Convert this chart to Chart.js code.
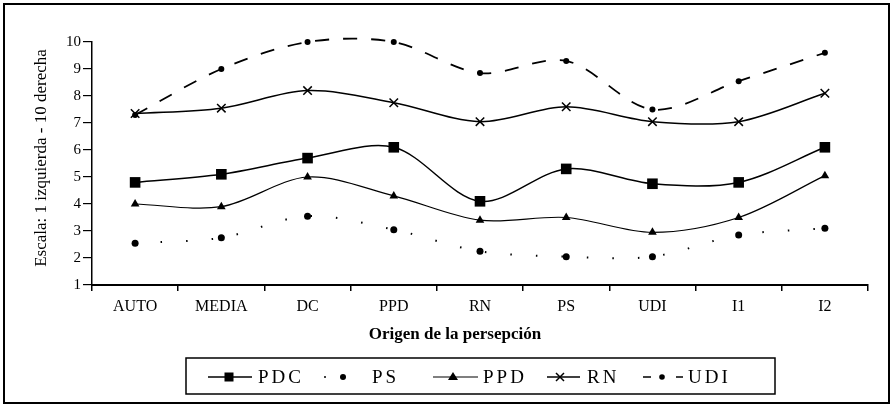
<!DOCTYPE html>
<html>
<head>
<meta charset="utf-8">
<script src="https://cdn.jsdelivr.net/npm/chart.js@4/dist/chart.umd.min.js"></script>
<style>
  html, body { margin: 0; padding: 0; background: #fff; }
  #wrap { width: 892px; height: 406px; position: relative; }
</style>
</head>
<body>
<div id="wrap"><canvas id="c" width="892" height="406"></canvas></div>
<script>
const categories = ['AUTO', 'MEDIA', 'DC', 'PPD', 'RN', 'PS', 'UDI', 'I1', 'I2'];
const seriesNames = ['PDC', 'PS', 'PPD', 'RN', 'UDI'];
const PDC = [4.8, 5.1, 5.7, 6.1, 4.1, 5.3, 4.75, 4.8, 6.1];
const PS  = [2.55, 2.75, 3.55, 3.05, 2.25, 2.05, 2.05, 2.85, 3.1];
const PPD = [4.0, 3.9, 5.0, 4.3, 3.4, 3.5, 2.95, 3.5, 5.05];
const RN  = [7.35, 7.55, 8.2, 7.75, 7.05, 7.6, 7.05, 7.05, 8.1];
const UDI = [7.3, 9.0, 10.0, 10.0, 8.85, 9.3, 7.5, 8.55, 9.6];
const yTicks = [1, 2, 3, 4, 5, 6, 7, 8, 9, 10];
const yTitle = 'Escala: 1 izquierda - 10 derecha';
const xTitle = 'Origen de la persepción';

const SERIF = "'Liberation Serif', 'DejaVu Serif', serif";
Chart.defaults.font.family = SERIF;
Chart.defaults.color = '#000';

const framePlugin = {
  id: 'frameAndLegend',
  afterDraw(chart) {
    const ctx = chart.ctx;
    ctx.save();
    ctx.fillStyle = '#000';
    ctx.strokeStyle = '#000';
    // axis titles
    ctx.font = "bold 17px " + SERIF;
    ctx.textAlign = 'center';
    ctx.textBaseline = 'middle';
    ctx.fillText(xTitle, 455, 335);
    ctx.save();
    ctx.translate(42, 158);
    ctx.rotate(-Math.PI / 2);
    ctx.font = "17px " + SERIF;
    ctx.fillText(yTitle, 0, 0);
    ctx.restore();
    // outer frame
    ctx.lineWidth = 2;
    ctx.strokeRect(4, 4, 885, 399);
    // legend box
    ctx.lineWidth = 1.5;
    ctx.strokeRect(186, 358, 589, 36);
    const y = 377;
    // PDC
    ctx.beginPath(); ctx.moveTo(208, y); ctx.lineTo(252, y); ctx.stroke();
    ctx.fillRect(224.5, y - 4.5, 9, 9);
    // PS
    ctx.beginPath(); ctx.arc(325, y, 1, 0, Math.PI * 2); ctx.fill();
    ctx.beginPath(); ctx.arc(343, y, 3, 0, Math.PI * 2); ctx.fill();
    // PPD
    ctx.lineWidth = 1.2;
    ctx.beginPath(); ctx.moveTo(433, y); ctx.lineTo(478, y); ctx.stroke();
    ctx.beginPath(); ctx.moveTo(453, y - 5); ctx.lineTo(458, y + 3); ctx.lineTo(448, y + 3); ctx.closePath(); ctx.fill();
    // RN
    ctx.lineWidth = 1.5;
    ctx.beginPath(); ctx.moveTo(547, y); ctx.lineTo(580, y); ctx.stroke();
    ctx.beginPath(); ctx.moveTo(556, y - 4); ctx.lineTo(564, y + 4); ctx.moveTo(564, y - 4); ctx.lineTo(556, y + 4); ctx.stroke();
    // UDI
    ctx.beginPath(); ctx.moveTo(643, y); ctx.lineTo(651, y); ctx.moveTo(676, y); ctx.lineTo(683, y); ctx.stroke();
    ctx.beginPath(); ctx.arc(662, y, 2.8, 0, Math.PI * 2); ctx.fill();
    // texts
    ctx.font = "19px " + SERIF;
    ctx.textBaseline = 'middle';
    ctx.textAlign = 'left';
    try { ctx.letterSpacing = '3px'; } catch (e) {}
    ctx.fillText(seriesNames[0], 258, y + 1);
    ctx.fillText(seriesNames[1], 372, y + 1);
    ctx.fillText(seriesNames[2], 483, y + 1);
    ctx.fillText(seriesNames[3], 587, y + 1);
    ctx.fillText(seriesNames[4], 688, y + 1);
    ctx.restore();
  }
};

const common = { borderColor: '#000', backgroundColor: '#000', tension: 0.32, clip: false, capBezierPoints: false };

new Chart(document.getElementById('c'), {
  type: 'line',
  data: {
    labels: categories,
    datasets: [
      Object.assign({ label: seriesNames[0], data: PDC, borderWidth: 1.5,
        pointStyle: 'rect', pointRadius: 7.5, pointBorderWidth: 0 }, common),
      Object.assign({ label: seriesNames[1], data: PS, borderWidth: 2,
        borderDash: [1.5, 24], pointStyle: 'circle', pointRadius: 3.5, pointBorderWidth: 0 }, common),
      Object.assign({ label: seriesNames[2], data: PPD, borderWidth: 1.2,
        pointStyle: 'triangle', pointRadius: 5, pointBorderWidth: 0 }, common),
      Object.assign({ label: seriesNames[3], data: RN, borderWidth: 1.5,
        pointStyle: 'crossRot', pointRadius: 6, pointBorderWidth: 1.5 }, common),
      Object.assign({ label: seriesNames[4], data: UDI, borderWidth: 1.8,
        borderDash: [14, 14], pointStyle: 'circle', pointRadius: 3, pointBorderWidth: 0 }, common)
    ]
  },
  options: {
    responsive: false,
    animation: false,
    layout: { padding: { left: 20, right: 24, top: 42, bottom: 58 } },
    plugins: { legend: { display: false }, tooltip: { enabled: false } },
    scales: {
      x: {
        type: 'category',
        offset: true,
        grid: { display: true, drawOnChartArea: false, drawTicks: true, tickLength: 6, color: '#000', lineWidth: 1.5, offset: true },
        border: { display: true, color: '#000', width: 2 },
        ticks: { font: { size: 16 }, color: '#000', padding: 6, autoSkip: false, maxRotation: 0 },
        title: { display: false },
        afterFit(scale) { scale.height = 63; }
      },
      y: {
        min: 1, max: 10,
        afterBuildTicks(scale) { scale.ticks = yTicks.map(v => ({ value: v })); },
        grid: { display: true, drawOnChartArea: false, drawTicks: true, tickLength: 9, color: '#000', lineWidth: 1.2 },
        border: { display: true, color: '#000', width: 1.5 },
        ticks: { font: { size: 15 }, color: '#000', padding: 2 },
        title: { display: false },
        afterFit(scale) { scale.width = 72; }
      }
    }
  },
  plugins: [framePlugin]
});
</script>
</body>
</html>
